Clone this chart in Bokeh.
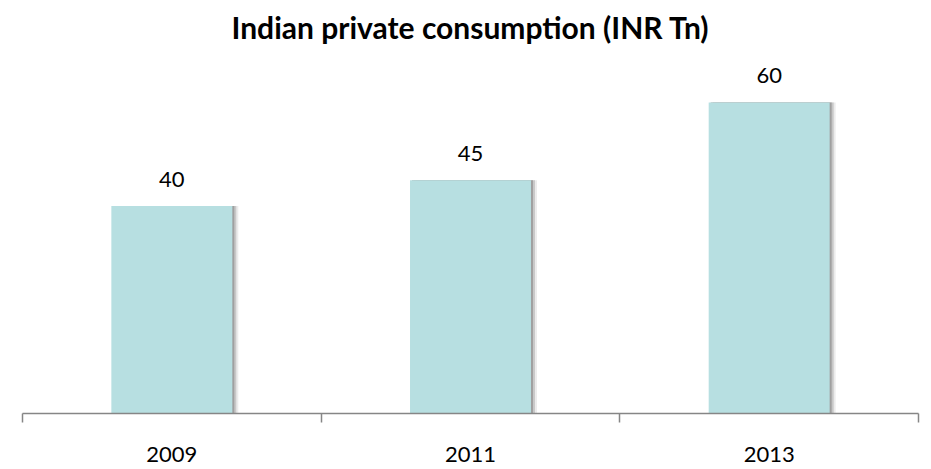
from bokeh.plotting import figure
from bokeh.models import ColumnDataSource, FixedTicker, Range1d
from bokeh.core.properties import value
from bokeh.transform import dodge
from bokeh.embed import file_html
from bokeh.resources import INLINE

years = ["2009", "2011", "2013"]
consumption = [40, 45, 60]
title_text = "Indian private consumption (INR Tn)"

xs = [i + 0.5 for i in range(len(years))]
src = ColumnDataSource(dict(x=xs, top=consumption, label=[str(v) for v in consumption]))

FONT = "Lato"

p = figure(width=931, height=469, output_backend="svg", toolbar_location=None,
           x_range=Range1d(0, len(years)), y_range=Range1d(0, 70.4),
           min_border_left=22, min_border_right=13, min_border_bottom=56, min_border_top=48)
p.title.text = title_text
p.title.align = "center"
p.title.text_font = FONT
p.title.text_font_size = "30px"
p.title.text_font_style = "bold"
p.title.text_color = "#000000"
p.title.standoff = 8

p.background_fill_color = "white"
p.border_fill_color = "white"
p.outline_line_color = None
p.grid.visible = False
p.yaxis.visible = False

w = 0.405
px = len(years) / 896.0
# soft shadow on the right side of each bar
p.vbar(x=dodge("x", 6 * px, range=p.x_range), top="top", width=w, source=src,
       fill_color="#ececec", line_color=None)
p.vbar(x=dodge("x", 4 * px, range=p.x_range), top="top", width=w, source=src,
       fill_color="#c8c8c8", line_color=None)
p.vbar(x=dodge("x", 2 * px, range=p.x_range), top="top", width=w, source=src,
       fill_color="#a0a0a0", line_color=None)
p.vbar(x="x", top="top", width=w, source=src, fill_color="#b7dfe1", line_color=None)

p.text(x="x", y="top", text="label", source=src, y_offset=-19, text_align="center",
       text_baseline="bottom", text_font=value(FONT), text_font_size="22px", text_color="#000000")

ax = p.xaxis[0]
ax.ticker = FixedTicker(ticks=xs, minor_ticks=list(range(len(years) + 1)))
ax.major_label_overrides = {x: y for x, y in zip(xs, years)}
ax.major_tick_out = 0
ax.major_tick_in = 0
ax.minor_tick_out = 9
ax.minor_tick_in = 0
ax.axis_line_color = "#868686"
ax.axis_line_width = 1.5
ax.minor_tick_line_color = "#868686"
ax.minor_tick_line_width = 1.5
ax.major_label_text_font = FONT
ax.major_label_text_font_size = "22px"
ax.major_label_text_color = "#000000"
ax.major_label_standoff = 24

open("out.html", "w").write(file_html(p, INLINE))
